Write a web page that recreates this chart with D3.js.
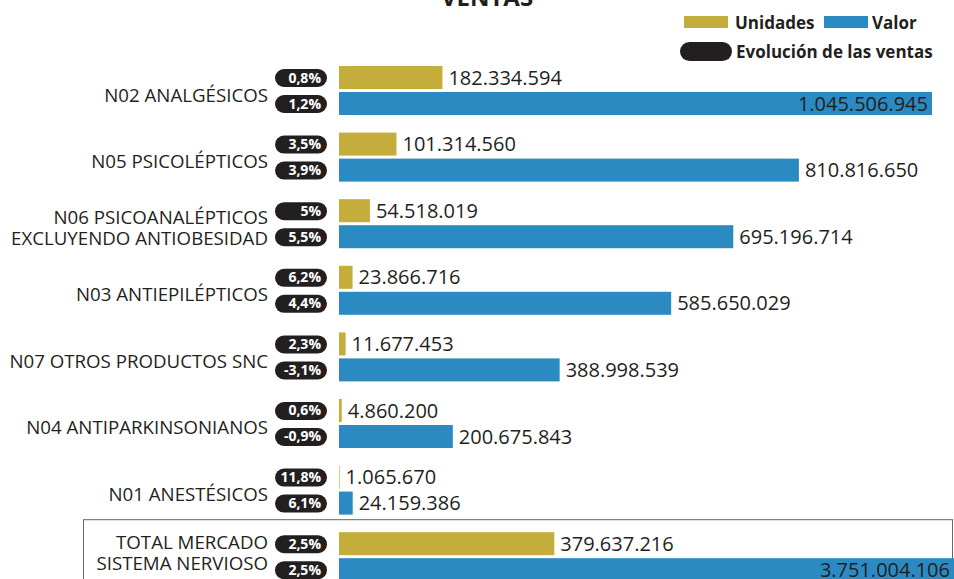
<!DOCTYPE html>
<html>
<head>
<meta charset="utf-8">
<script src="https://cdn.jsdelivr.net/npm/d3@7"></script>
<style>
  html, body { margin: 0; padding: 0; background: #fff; }
  svg { display: block; font-family: 'Open Sans', sans-serif; }
  .cat { font-size: 18.7px; fill: #231f20; }
  .val { font-size: 20px; fill: #231f20; }
  .pill text { font-size: 14px; font-weight: bold; fill: #fff; }
  .legend text { font-size: 17px; font-weight: bold; fill: #231f20; }
</style>
</head>
<body>
<svg id="chart" width="954" height="579"></svg>
<script>
// datos
const categorias = [
  ['N02 ANALGÉSICOS'],
  ['N05 PSICOLÉPTICOS'],
  ['N06 PSICOANALÉPTICOS', 'EXCLUYENDO ANTIOBESIDAD'],
  ['N03 ANTIEPILÉPTICOS'],
  ['N07 OTROS PRODUCTOS SNC'],
  ['N04 ANTIPARKINSONIANOS'],
  ['N01 ANESTÉSICOS'],
  ['TOTAL MERCADO', 'SISTEMA NERVIOSO']
]
const unidades = [182334594, 101314560, 54518019, 23866716, 11677453, 4860200, 1065670, 379637216]
const valor = [1045506945, 810816650, 695196714, 585650029, 388998539, 200675843, 24159386, 3751004106]
const evolUnidades = ['0,8%', '3,5%', '5%', '6,2%', '2,3%', '0,6%', '11,8%', '2,5%']
const evolValor = ['1,2%', '3,9%', '5,5%', '4,4%', '-3,1%', '-0,9%', '6,1%', '2,5%']
const series = ['Unidades', 'Valor']

const colores = { Unidades: '#c5ad3b', Valor: '#2b8ac1' }
const pillColor = '#231f20'
const W = 954, H = 579

const es = d3.formatLocale({ decimal: ',', thousands: '.', grouping: [3], currency: ['', ''] })
const fmt = es.format(',d')

const rows = categorias.map((c, i) => ({
  idx: i,
  lines: c,
  total: i === categorias.length - 1,
  values: [
    { key: 'Unidades', v: unidades[i], evol: evolUnidades[i] },
    { key: 'Valor', v: valor[i], evol: evolValor[i] }
  ]
}))

const svg = d3.select('#chart')

// scales
const x = d3.scaleLinear()
  .domain([0, d3.max(valor.slice(0, valor.length - 1))])
  .range([339, 932])

const y = d3.scaleBand()
  .domain(rows.map(d => d.idx))
  .range([66, 581.2])
  .paddingInner(0.264)
  .paddingOuter(0)

const ySub = d3.scaleBand()
  .domain(series)
  .range([0, y.bandwidth()])
  .paddingInner(0.115)

// title
svg.append('text')
  .attr('x', 487)
  .attr('y', 6)
  .attr('text-anchor', 'middle')
  .style('font-size', '24px')
  .style('font-weight', 'bold')
  .style('fill', '#231f20')
  .text('VENTAS')

// legend
const legend = svg.append('g').attr('class', 'legend')
const legItems = [
  { key: 'Unidades', x: 684, tx: 735 },
  { key: 'Valor', x: 824, tx: 872 }
]
legItems.forEach(l => {
  legend.append('rect')
    .attr('x', l.x).attr('y', 16)
    .attr('width', 44).attr('height', 12)
    .attr('fill', colores[l.key])
  legend.append('text')
    .attr('x', l.tx).attr('y', 29)
    .text(l.key)
})
legend.append('rect')
  .attr('x', 680).attr('y', 42)
  .attr('width', 52).attr('height', 19)
  .attr('rx', 9.5)
  .attr('fill', pillColor)
legend.append('text')
  .attr('x', 736).attr('y', 58)
  .text('Evolución de las ventas')

// total box
const totalRow = rows[rows.length - 1]
svg.append('rect')
  .attr('x', 83.5)
  .attr('y', y(totalRow.idx) - 12.5)
  .attr('width', 869)
  .attr('height', 100)
  .attr('fill', 'none')
  .attr('stroke', '#666')
  .attr('stroke-width', 1)

// rows
const row = svg.selectAll('g.row')
  .data(rows)
  .join('g')
  .attr('class', 'row')
  .attr('transform', d => `translate(0,${y(d.idx)})`)

// category labels
row.append('text')
  .attr('class', 'cat')
  .attr('text-anchor', 'end')
  .attr('x', 268)
  .each(function (d) {
    const t = d3.select(this)
    const mid = y.bandwidth() / 2
    if (d.lines.length === 1) {
      t.append('tspan').attr('x', 268).attr('y', mid + 11).text(d.lines[0])
    } else {
      const off = d.total ? -8 : 0
      d.lines.forEach((ln, k) => {
        t.append('tspan').attr('x', 268).attr('y', mid + off + k * 21.5).text(ln)
      })
    }
  })

const bar = row.selectAll('g.bar')
  .data(d => d.values)
  .join('g')
  .attr('class', 'bar')
  .attr('transform', d => `translate(0,${ySub(d.key)})`)

bar.append('rect')
  .attr('x', x(0))
  .attr('y', 0)
  .attr('width', d => Math.max(0, x(d.v) - x(0)))
  .attr('height', ySub.bandwidth())
  .attr('fill', d => colores[d.key])

// pills
const pill = bar.append('g').attr('class', 'pill')
pill.append('rect')
  .attr('x', 275)
  .attr('y', ySub.bandwidth() / 2 - 8.5)
  .attr('width', 52)
  .attr('height', 18)
  .attr('rx', 9)
  .attr('fill', pillColor)
pill.append('text')
  .attr('x', 321)
  .attr('y', ySub.bandwidth() / 2 + 5)
  .attr('text-anchor', 'end')
  .text(d => d.evol)

// value labels
bar.append('text')
  .attr('class', 'val')
  .attr('y', ySub.bandwidth() / 2 + 7)
  .text(d => fmt(d.v))
  .each(function (d) {
    const t = d3.select(this)
    const end = x(d.v)
    const w = this.getComputedTextLength()
    if (end + 6 + w > W) {
      t.attr('x', Math.min(end, W) - 4).attr('text-anchor', 'end')
    } else {
      t.attr('x', end + 6)
    }
  })
</script>
</body>
</html>
